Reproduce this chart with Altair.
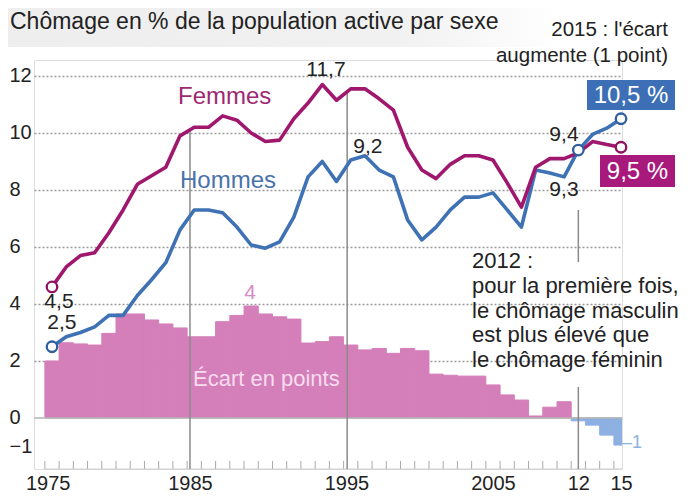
import altair as alt
import pandas as pd

# ---------------- data ----------------
years = list(range(1975, 2016))
femmes = [4.6, 5.3, 5.7, 5.8, 6.5, 7.3, 8.2, 8.5, 8.8, 9.9,
          10.2, 10.2, 10.6, 10.45, 10.0, 9.7, 9.75, 10.5, 11.05, 11.7,
          11.15, 11.55, 11.55, 11.2, 10.8, 9.5, 8.7, 8.4, 8.9, 9.2,
          9.2, 9.05, 8.25, 7.4, 8.8, 9.1, 9.1, 9.3, 9.7, 9.6, 9.5]
hommes = [2.5, 2.85, 3.0, 3.2, 3.6, 3.6, 4.3, 4.85, 5.45, 6.6,
          7.3, 7.3, 7.2, 6.7, 6.07, 5.96, 6.18, 7.05, 8.46, 9.0,
          8.3, 9.05, 9.2, 8.7, 8.46, 6.95, 6.25, 6.7, 7.3, 7.75,
          7.75, 7.9, 7.3, 6.7, 8.7, 8.6, 8.46, 9.4, 9.95, 10.17, 10.5]
ecart = [2.0, 2.64, 2.6, 2.56, 2.97, 3.65, 3.65, 3.44, 3.3, 3.16,
         2.85, 2.85, 3.38, 3.6, 3.93, 3.65, 3.55, 3.47, 2.63, 2.68,
         2.85, 2.56, 2.39, 2.44, 2.27, 2.44, 2.36, 1.54, 1.5, 1.47,
         1.47, 1.16, 0.81, 0.63, 0.07, 0.38, 0.57, -0.1, -0.25, -0.6, -0.95]
circle_years_h = [1975, 2012, 2015]
circle_years_f = [1975, 2015]

y_ticks = [12, 10, 8, 6, 4, 2, 0, -1]
x_label_pos = [1974.7, 1984.7, 1995.7, 2006, 2012, 2015]
x_label_expr = ("datum.value < 1980 ? '1975' : datum.value < 1990 ? '1985' : "
                "datum.value < 2000 ? '1995' : datum.value < 2010 ? '2005' : "
                "datum.value < 2013 ? '12' : '15'")

df = pd.DataFrame({"year": years, "femmes": femmes, "hommes": hommes, "ecart": ecart})
one = pd.DataFrame({"k": [0]})

# ---------------- style ----------------
FONT = "Liberation Sans"
PINK = "#d47fb9"
BLUE_NEG = "#8db0e3"
C_F = "#a0176e"
C_H = "#3f72b4"
GRAY_RULE = "#8a8a8a"
TXT = "#222222"
PAD_L = 26
W, H = 588, 409

xs = alt.Scale(domain=[1973.735, 2015.07], nice=False, zero=False)
ys = alt.Scale(domain=[-1.7895, 12.5614], nice=False, zero=False)

x_axis = alt.Axis(values=x_label_pos, labelExpr=x_label_expr, labelFontSize=20,
                  labelPadding=4, domain=False, ticks=False, grid=False,
                  labelColor=TXT, labelFont=FONT, labelFlush=False,
                  labelOverlap=False, title=None)
y_axis = alt.Axis(values=y_ticks, labelFontSize=20, labelColor=TXT, labelFont=FONT,
                  labelAlign="left", labelPadding=PAD_L - 1,
                  domain=False, ticks=False, grid=True,
                  gridColor="#9a9a9a", gridDash=[2, 2], gridWidth=1.3,
                  gridOpacity={"condition": {"test": "datum.value <= 0", "value": 0}, "value": 1},
                  title=None)


def X(field):
    return alt.X(field, type="quantitative", scale=xs, axis=x_axis, title=None)


def Y(field):
    return alt.Y(field, type="quantitative", scale=ys, axis=y_axis, title=None)


base = alt.Chart(df)

# light gray header band
band = alt.Chart(one).mark_rect(
    color=alt.LinearGradient(gradient="linear", x1=0, x2=1, y1=0, y2=0,
                             stops=[alt.GradientStop(offset=0, color="#eeeeee"),
                                    alt.GradientStop(offset=0.7, color="#f1f1f1"),
                                    alt.GradientStop(offset=1, color="#ffffff")])
).encode(x=alt.value(-PAD_L), x2=alt.value(528), y=alt.value(-52), y2=alt.value(-13))

# bars (écart)
bars = base.mark_rect(clip=True, strokeWidth=1).transform_calculate(
    x0="datum.year - 0.5", x1="datum.year + 0.5"
).encode(
    x=X("x0"), x2="x1:Q",
    y=Y("ecart"), y2=alt.datum(0),
    color=alt.condition("datum.ecart < 0", alt.value(BLUE_NEG), alt.value(PINK)),
    stroke=alt.condition("datum.ecart < 0", alt.value(BLUE_NEG), alt.value(PINK)),
)

zero_line = alt.Chart(one).mark_rule(color="#b5b5b5", strokeWidth=1.5).encode(y=alt.datum(0))

# year ticks along the bottom
ticks = base.transform_calculate(edge="datum.year - 0.5").mark_rule(
    color="#a8a8a8", strokeWidth=1).encode(
    x=X("edge"), y=alt.value(H - 8), y2=alt.value(H))
baseline = alt.Chart(one).mark_rule(color="#cccccc", strokeWidth=1).encode(
    x=alt.datum(1974.5), x2=alt.datum(2015.07), y=alt.value(H))


def vrule(xv, y_top, y_bot=None):
    enc = dict(x=alt.datum(xv), y=alt.datum(y_top))
    enc["y2"] = alt.value(H) if y_bot is None else alt.datum(y_bot)
    return alt.Chart(one).mark_rule(color=GRAY_RULE, strokeWidth=1.5).encode(**enc)


rules = [vrule(1984.7, 10.05), vrule(1995.75, 11.45),
         vrule(2012, 7.3, 5.47), vrule(2012, 1.09)]

line_f = base.mark_line(color=C_F, strokeWidth=3.6, strokeJoin="round").encode(
    x=X("year"), y=Y("femmes"))
line_h = base.mark_line(color=C_H, strokeWidth=3.6, strokeJoin="round").encode(
    x=X("year"), y=Y("hommes"))

circ_f = base.transform_filter(alt.FieldOneOfPredicate(field="year", oneOf=circle_years_f)).mark_circle(
    fill="white", stroke="#8f135f", strokeWidth=2.3, size=110, opacity=1).encode(
    x=X("year"), y=Y("femmes"))
circ_h = base.transform_filter(alt.FieldOneOfPredicate(field="year", oneOf=circle_years_h)).mark_circle(
    fill="white", stroke="#2f5f9f", strokeWidth=2.3, size=110, opacity=1).encode(
    x=X("year"), y=Y("hommes"))


def txt(text, xv, yv, size=21, color=TXT, align="center", baseline="middle"):
    return alt.Chart(one).mark_text(text=text, font=FONT, fontSize=size, color=color,
                                    align=align, baseline=baseline).encode(
        x=alt.datum(xv), y=alt.datum(yv))


def txtpx(text, xp, yp, size=21, color=TXT, align="center", baseline="middle", **kw):
    return alt.Chart(one).mark_text(text=text, font=FONT, fontSize=size, color=color,
                                    align=align, baseline=baseline, **kw).encode(
        x=alt.value(xp), y=alt.value(yp))


texts = [
    txt("Femmes", 1983.86, 11.26, size=24, color="#9e2872", align="left"),
    txt("Hommes", 1984.0, 8.32, size=24, color="#4a72aa", align="left"),
    txt("Écart en points", 1984.91, 1.37, size=22, color="#f7dcef", align="left"),
    txt("4", 1988.92, 4.39, size=21, color="#d98ac3"),
    txt("11,7", 1994.26, 12.21),
    txt("9,2", 1997.21, 9.51),
    txt("4,5", 1975.49, 4.07),
    txt("2,5", 1975.7, 3.33),
    txt("9,4", 2010.99, 9.93),
    txt("9,3", 2010.99, 8.0),
    txt("–1", 2015.77, -0.88, size=18, color=BLUE_NEG),
]

# pixel offsets relative to the plot origin (page x = 34)
OX = PAD_L + 8
header = [
    txtpx("Chômage en % de la population active par sexe", 10 - OX, -38, size=23, align="left"),
    txtpx("2015 : l'écart", 668 - OX, -30, size=20.5, align="right"),
    txtpx("augmente (1 point)", 668 - OX, -4, size=20.5, align="right"),
]

boxes = [
    alt.Chart(one).mark_rect(color="#3c6fb5").encode(
        x=alt.value(587 - OX), x2=alt.value(675 - OX), y=alt.value(20), y2=alt.value(50)),
    alt.Chart(one).mark_rect(color="#a8197c").encode(
        x=alt.value(600 - OX), x2=alt.value(675 - OX), y=alt.value(95), y2=alt.value(127)),
    txtpx("10,5 %", 631 - OX, 35.5, size=24, color="white"),
    txtpx("9,5 %", 637.5 - OX, 111.5, size=24, color="white"),
]

note = txtpx("2012 :\npour la première fois,\nle chômage masculin\nest plus élevé que\nle chômage féminin",
             472 - OX, 208, size=22, align="left", baseline="alphabetic",
             lineHeight=24.8, lineBreak="\n")

chart = alt.layer(
    band, bars, zero_line, ticks, baseline, *rules, line_h, line_f, circ_h, circ_f,
    *texts, *header, *boxes, note
).properties(
    width=W, height=H,
    autosize=alt.AutoSizeParams(type="none"),
    padding={"left": PAD_L, "top": 52, "right": 677 - PAD_L - W, "bottom": 24},
    background="white",
).configure_view(stroke=None).configure(font=FONT)

chart.save("out.html", embed_options={"renderer": "svg", "actions": False})
